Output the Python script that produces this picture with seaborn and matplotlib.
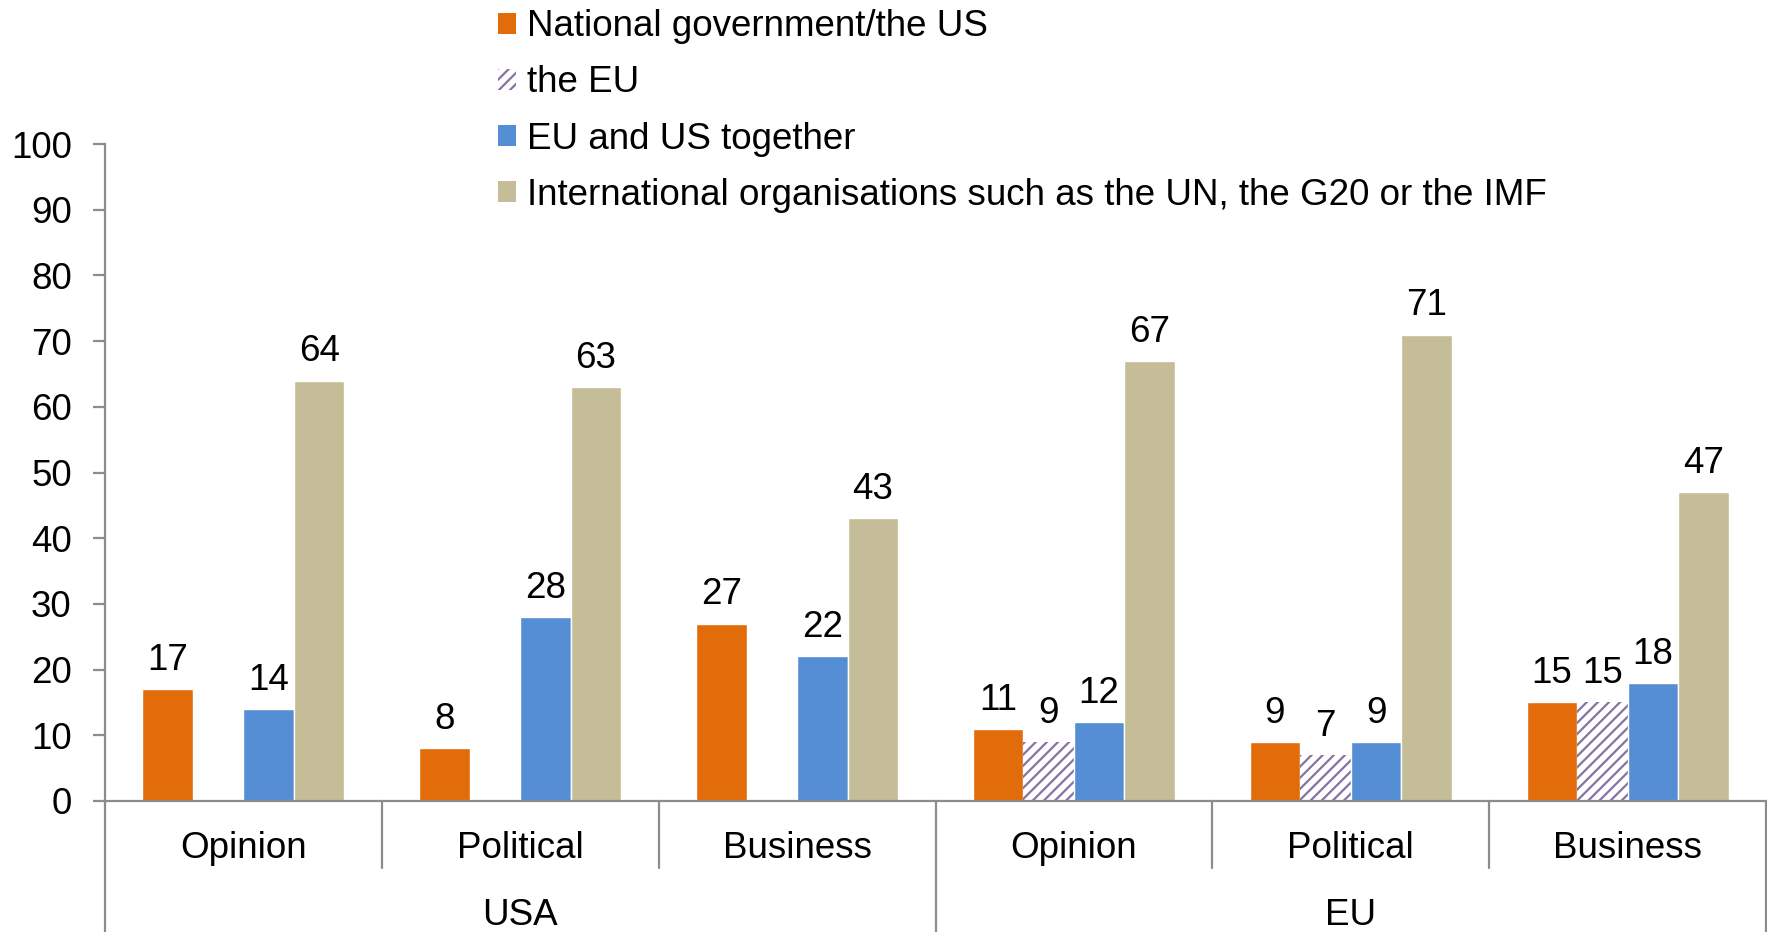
import numpy as np
import pandas as pd
import seaborn as sns
import matplotlib
matplotlib.use("Agg")
import matplotlib.pyplot as plt
from matplotlib.patches import Patch
from matplotlib.transforms import blended_transform_factory

# ---- data ----
regions = ["USA", "EU"]
sectors = ["Opinion", "Political", "Business"]
series = [
    "National government/the US",
    "the EU",
    "EU and US together",
    "International organisations such as the UN, the G20 or the IMF",
]
national_gov = [17, 8, 27, 11, 9, 15]
the_eu = [np.nan, np.nan, np.nan, 9, 7, 15]
eu_us_together = [14, 28, 22, 12, 9, 18]
international = [64, 63, 43, 67, 71, 47]
y_ticks = [0, 10, 20, 30, 40, 50, 60, 70, 80, 90, 100]

colors = ["#E36C0A", "#FFFFFF", "#558ED5", "#C4BD97"]
hatch_color = "#8673A6"

groups = [f"{r}|{s}" for r in regions for s in sectors]
values = [national_gov, the_eu, eu_us_together, international]
rows = []
for name, vals in zip(series, values):
    for g, v in zip(groups, vals):
        rows.append({"group": g, "series": name, "value": v})
df = pd.DataFrame(rows)

# ---- figure ----
sns.set_theme(style="white")
plt.rcParams["font.family"] = ["Liberation Sans", "DejaVu Sans"]
plt.rcParams["text.color"] = "black"
plt.rcParams["hatch.linewidth"] = 1.6
FS = 26.5

fig = plt.figure(figsize=(17.67, 9.32), dpi=100)
ax = fig.add_axes([105 / 1767, 131 / 932, 1661 / 1767, 657 / 932])

sns.barplot(
    data=df, x="group", y="value", hue="series",
    order=groups, hue_order=series, palette=colors,
    width=0.73, saturation=1, edgecolor="white", linewidth=1,
    legend=False, ax=ax,
)

# hatched series
eu_container = ax.containers[1]
for bar in eu_container:
    bar.set_facecolor("white")
    bar.set_edgecolor(hatch_color)
    bar.set_linewidth(0)
    bar.set_hatch("///")

for cont in ax.containers:
    ax.bar_label(cont, fmt="{:.0f}", padding=8, fontsize=FS, color="black")

ax.set_ylim(0, 100)
ax.set_xlim(-0.5, len(groups) - 0.5)
ax.set_yticks(y_ticks)
ax.set_yticklabels([str(t) for t in y_ticks], fontsize=FS, color="black")
ax.set_xticks([])
ax.set_xlabel("")
ax.set_ylabel("")

for side in ["top", "right"]:
    ax.spines[side].set_visible(False)
for side in ["left", "bottom"]:
    ax.spines[side].set_color("#8C8C8C")
    ax.spines[side].set_linewidth(1.6)
ax.tick_params(axis="y", which="both", left=True, length=9, width=1.6,
               color="#8C8C8C", pad=15, labelcolor="black")

# multi-level category axis
trans = blended_transform_factory(ax.transData, ax.transAxes)
n_sec = len(sectors)
for i, g in enumerate(groups):
    sector = g.split("|")[1]
    ax.text(i, -0.072, sector, transform=trans, ha="center", va="center",
            fontsize=FS, color="black")
for i in range(1, len(groups)):
    if i % n_sec != 0:
        ax.plot([i - 0.5, i - 0.5], [0, -0.102], transform=trans,
                color="#8C8C8C", lw=1.6, clip_on=False)
for j, region in enumerate(regions):
    center = np.mean([j * n_sec + k for k in range(n_sec)])
    ax.text(center, -0.175, region, transform=trans, ha="center",
            va="center", fontsize=FS, color="black")
for j in range(len(regions) + 1):
    xb = j * n_sec - 0.5
    ax.plot([xb, xb], [0, -0.21], transform=trans, color="#8C8C8C",
            lw=1.6, clip_on=False)

# legend
handles = []
for name, c in zip(series, colors):
    if name == "the EU":
        handles.append(Patch(facecolor="white", edgecolor=hatch_color,
                             hatch="///", linewidth=0, label=name))
    else:
        handles.append(Patch(facecolor=c, edgecolor="white", linewidth=0,
                             label=name))
leg = fig.legend(handles=handles, loc="upper left",
                 bbox_to_anchor=(498 / 1767, 0.990), frameon=False,
                 fontsize=FS, handlelength=0.5, handleheight=0.5,
                 handletextpad=0.3, labelspacing=0.575, borderpad=0.0,
                 borderaxespad=0.0)
for t in leg.get_texts():
    t.set_color("black")

fig.savefig("out.png", dpi=100, facecolor="white")
